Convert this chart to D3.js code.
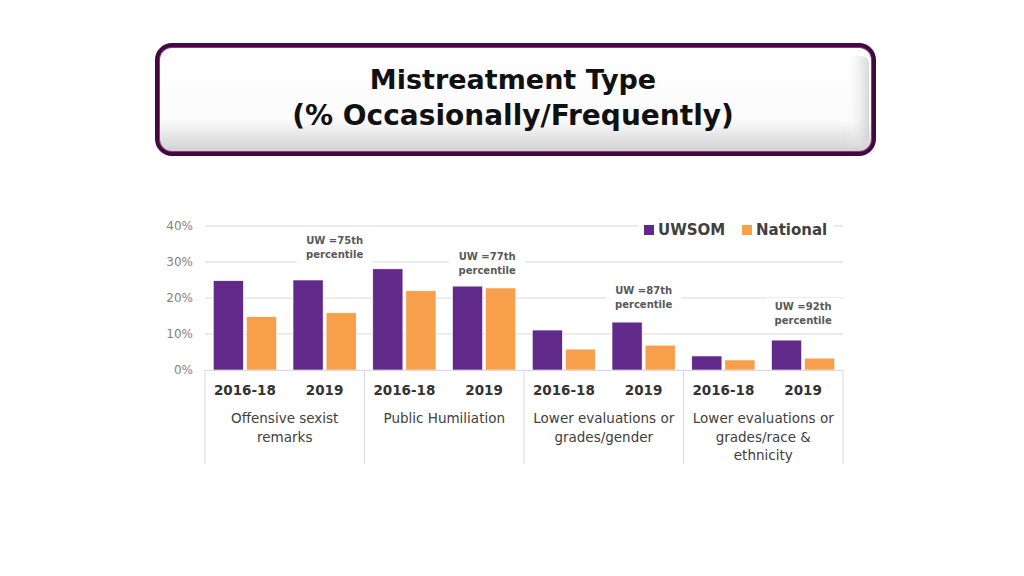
<!DOCTYPE html>
<html>
<head>
<meta charset="utf-8">
<script src="https://cdn.jsdelivr.net/npm/d3@7"></script>
<style>
  html, body { margin: 0; padding: 0; background: #ffffff; }
  svg { display: block; }
</style>
</head>
<body>
<svg id="chart" width="1024" height="576"></svg>
<script>
// ---- data ----
const titleLines = ["Mistreatment Type", "(% Occasionally/Frequently)"];
const groups = ["Offensive sexist remarks", "Public Humiliation", "Lower evaluations or grades/gender", "Lower evaluations or grades/race & ethnicity"];
const groupLabelLines = [["Offensive sexist", "remarks"], ["Public Humiliation"], ["Lower evaluations or", "grades/gender"], ["Lower evaluations or", "grades/race &", "ethnicity"]];
const periods = ["2016-18", "2019"];
const seriesNames = ["UWSOM", "National"];
const uwsomValues = [24.8, 25.0, 28.1, 23.3, 11.1, 13.3, 3.9, 8.3];
const nationalValues = [14.8, 15.9, 22.0, 22.8, 5.8, 6.9, 2.8, 3.3];
const annotations = [["UW =75th", "percentile"], ["UW =77th", "percentile"], ["UW =87th", "percentile"], ["UW =92th", "percentile"]];
const yTicks = [0, 10, 20, 30, 40];

// layout (not data): annotation vertical gap above the 2019 UWSOM bar, px
const annotationGap = [48, 38, 40, 42];
const annotationShift = [10, 3, 0, 0];

const colors = { UWSOM: "#612a8a", National: "#f89f4b" };
const font = "'DejaVu Sans', sans-serif";

const svg = d3.select("#chart");

// ---- title box ----
const defs = svg.append("defs");
const g1 = defs.append("linearGradient").attr("id", "boxFill").attr("x1", 0).attr("y1", 0).attr("x2", 0).attr("y2", 1);
g1.append("stop").attr("offset", "0%").attr("stop-color", "#ffffff");
g1.append("stop").attr("offset", "70%").attr("stop-color", "#fbfbfb");
g1.append("stop").attr("offset", "100%").attr("stop-color", "#d2d2d2");
const g2 = defs.append("linearGradient").attr("id", "sideFill").attr("x1", 0).attr("y1", 0).attr("x2", 1).attr("y2", 0);
g2.append("stop").attr("offset", "0%").attr("stop-color", "#ffffff").attr("stop-opacity", 0);
g2.append("stop").attr("offset", "100%").attr("stop-color", "#cfcfcf").attr("stop-opacity", 1);

svg.append("rect").attr("x", 155).attr("y", 43).attr("width", 721).attr("height", 113)
  .attr("rx", 17).attr("fill", "#420940");
svg.append("rect").attr("x", 159).attr("y", 47).attr("width", 713).attr("height", 105)
  .attr("rx", 13).attr("fill", "#8a3a86");
svg.append("rect").attr("x", 160).attr("y", 48).attr("width", 711).attr("height", 103)
  .attr("rx", 12).attr("fill", "url(#boxFill)");
svg.append("rect").attr("x", 845).attr("y", 56).attr("width", 24).attr("height", 90)
  .attr("rx", 8).attr("fill", "url(#sideFill)").attr("opacity", 0.8);

svg.append("g").selectAll("text").data(titleLines).join("text")
  .attr("x", 513).attr("y", (d, i) => 89 + i * 36)
  .attr("text-anchor", "middle")
  .attr("font-family", font).attr("font-weight", "bold").attr("font-size", (d, i) => i === 0 ? 27 : 28)
  .attr("fill", "#111111")
  .text(d => d);

// ---- chart scales ----
const plotLeft = 205, plotRight = 843, plotTop = 226, plotBottom = 370;
const cats = [];
groups.forEach((g, gi) => periods.forEach((p, pi) => cats.push({ group: g, gi, period: p, idx: gi * periods.length + pi })));

const x = d3.scaleBand().domain(cats.map(c => c.idx)).range([plotLeft, plotRight]).padding(0);
const xs = d3.scaleBand().domain(seriesNames).range([0, x.bandwidth()]).paddingInner(0.09).paddingOuter(0.25);
const y = d3.scaleLinear().domain([0, 40]).range([plotBottom, plotTop]);

// gridlines
svg.append("g").selectAll("line").data(yTicks.filter(t => t > 0)).join("line")
  .attr("x1", plotLeft).attr("x2", plotRight)
  .attr("y1", d => y(d)).attr("y2", d => y(d))
  .attr("stroke", "#d9d9d9").attr("stroke-width", 1);

// y axis labels
const yAxis = d3.axisLeft(y).tickValues(yTicks).tickFormat(d => d + "%").tickSize(0).tickPadding(0);
const ya = svg.append("g").attr("transform", `translate(${plotLeft - 12},0)`).call(yAxis);
ya.select(".domain").remove();
ya.selectAll("text").attr("font-family", font).attr("font-size", 12).attr("fill", "#7f7f7f");

// bars
const bars = [];
cats.forEach(c => {
  bars.push({ c, s: "UWSOM", v: uwsomValues[c.idx] });
  bars.push({ c, s: "National", v: nationalValues[c.idx] });
});
svg.append("g").selectAll("rect").data(bars).join("rect")
  .attr("x", d => x(d.c.idx) + xs(d.s))
  .attr("width", xs.bandwidth())
  .attr("y", d => y(d.v))
  .attr("height", d => y(0) - y(d.v))
  .attr("fill", d => colors[d.s])
  .attr("stroke", "#ffffff").attr("stroke-width", 0.6);

// x axis baseline
svg.append("line").attr("x1", plotLeft).attr("x2", plotRight).attr("y1", plotBottom + 0.5).attr("y2", plotBottom + 0.5)
  .attr("stroke", "#d9d9d9");

// group dividers
const groupEdges = d3.range(groups.length + 1).map(i => i === groups.length ? plotRight : x(i * periods.length));
svg.append("g").selectAll("line").data(groupEdges).join("line")
  .attr("x1", d => d).attr("x2", d => d)
  .attr("y1", plotBottom).attr("y2", 464)
  .attr("stroke", "#d9d9d9");

// period labels
svg.append("g").selectAll("text").data(cats).join("text")
  .attr("x", c => x(c.idx) + x.bandwidth() / 2)
  .attr("y", 395)
  .attr("text-anchor", "middle")
  .attr("font-family", font).attr("font-weight", "bold").attr("font-size", 13.5)
  .attr("fill", "#333333")
  .text(c => c.period);

// group labels
groupLabelLines.forEach((lines, gi) => {
  const cx = (groupEdges[gi] + groupEdges[gi + 1]) / 2;
  svg.append("g").selectAll("text").data(lines).join("text")
    .attr("x", cx).attr("y", (d, i) => 423 + i * 18.5)
    .attr("text-anchor", "middle")
    .attr("font-family", font).attr("font-size", 13.5)
    .attr("fill", "#404040")
    .text(d => d);
});

// annotations
annotations.forEach((lines, gi) => {
  const idx = gi * periods.length + 1;
  const cx = x(idx) + x.bandwidth() / 2 + annotationShift[gi];
  const yTop = y(uwsomValues[idx]) - annotationGap[gi];
  const g = svg.append("g");
  g.append("rect").attr("x", cx - 38).attr("y", yTop).attr("width", 76).attr("height", 32).attr("fill", "#ffffff");
  g.selectAll("text").data(lines).join("text")
    .attr("x", cx).attr("y", (d, i) => yTop + 12 + i * 14)
    .attr("text-anchor", "middle")
    .attr("font-family", font).attr("font-weight", "bold").attr("font-size", 10)
    .attr("fill", "#595959")
    .text(d => d);
});

// legend
const legendItems = [{ s: "UWSOM", x: 644 }, { s: "National", x: 742 }];
const lg = svg.append("g");
lg.append("rect").attr("x", 638).attr("y", 218).attr("width", 196).attr("height", 22).attr("fill", "#ffffff");
legendItems.forEach(it => {
  lg.append("rect").attr("x", it.x).attr("y", 225).attr("width", 10).attr("height", 10).attr("fill", colors[it.s]);
  lg.append("text").attr("x", it.x + 14).attr("y", 235)
    .attr("font-family", font).attr("font-weight", "bold").attr("font-size", 15)
    .attr("fill", "#404040").text(it.s);
});
</script>
</body>
</html>
